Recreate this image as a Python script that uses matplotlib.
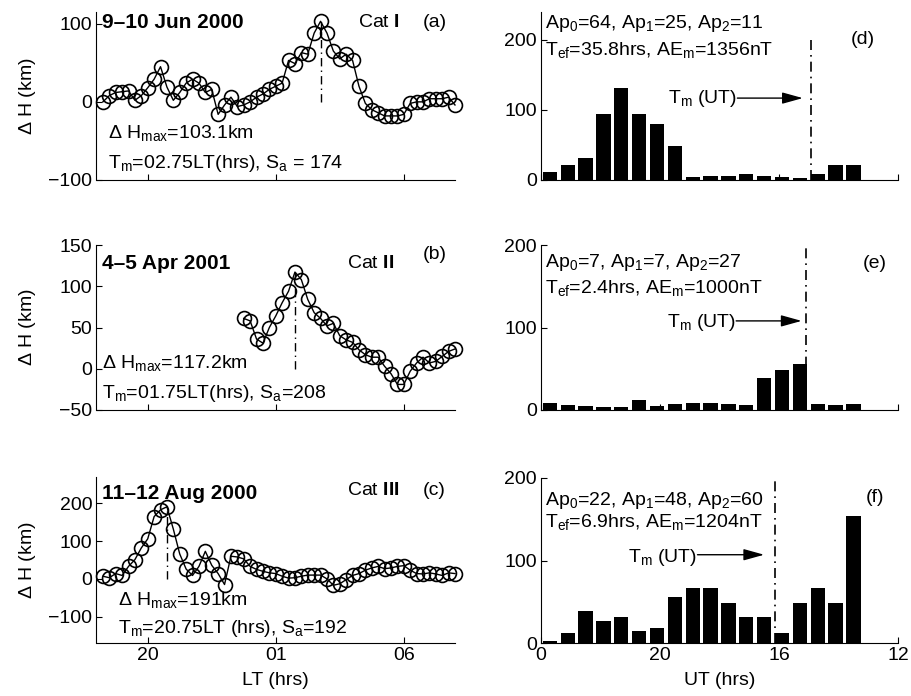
import numpy as np
import matplotlib.pyplot as plt

plt.rcParams['font.family'] = ['Liberation Sans', 'DejaVu Sans']
plt.rcParams['mathtext.fontset'] = 'custom'
plt.rcParams['mathtext.rm'] = 'Liberation Sans'
plt.rcParams['mathtext.it'] = 'Liberation Sans'
plt.rcParams['mathtext.bf'] = 'Liberation Sans:bold'
plt.rcParams['font.size'] = 14

# height rise of the F layer (km), 15 min samples, LT in hours (24 = midnight)
lt_a = np.arange(18.25, 32.01, 0.25)
dh_a = [0, 8, 12, 13, 14, 2, 8, 18, 29, 45, 19, 2, 12, 24, 29, 24, 12, 16, -16,
        -4, 6, -6, -4, 0, 6, 10, 16, 20, 24, 53, 49, 63, 61, 88, 103.1,
        88, 65, 55, 61, 53, 20, -2, -10, -14, -18, -18, -18, -16, -2, 0, 0,
        4, 4, 4, 6, -4]
lt_b = np.arange(23.75, 32.01, 0.25)
dh_b = [61, 58, 36, 31, 50, 64, 80, 94, 117.2,
        108, 84, 68, 61, 52, 55, 40, 35, 32, 23, 17, 14, 14, 3, -6, -19, -19,
        -3, 7, 14, 7, 9, 15, 21, 24]
lt_c = np.arange(18.25, 32.01, 0.25)
dh_c = [7, 3, 14, 9, 33, 51, 82, 106, 165, 183, 191,
        132, 66, 26, 9, 33, 73, 36, 14, -15, 60, 58, 53, 33, 25, 20, 16, 14,
        7, 2, 3, 7, 10, 10, 10, 0, -17, -13, -2, 9, 14, 23, 29, 33, 27, 29,
        33, 35, 23, 14, 13, 16, 13, 9, 16, 14]
tm_lt = [26.75, 25.75, 20.75]

# 3-hourly ap index
ut_bins = np.arange(1.5, 54, 3)
ap_d = [12, 22, 32, 94, 132, 94, 80, 48, 4, 6, 6, 9, 6, 5, 3, 9, 22, 22]
ap_e = [9, 6, 5, 4, 4, 12, 5, 7, 9, 9, 7, 6, 39, 48, 56, 7, 6, 7]
ap_f = [3, 12, 39, 27, 32, 15, 18, 56, 67, 67, 48, 32, 32, 12, 48, 67, 48, 154]
tm_ut = [45.3, 44.5, 39.3]

lt_ticks = [20, 25, 30]
lt_labels = ['20', '01', '06']
ut_ticks = [0, 20, 40, 60]
ut_labels = ['0', '20', '16', '12']

dates = ['9\u201310 Jun 2000', '4\u20135 Apr 2001', '11\u201312 Aug 2000']
cats = [r'Cat $\mathbf{I}$', r'Cat $\mathbf{II}$', r'Cat $\mathbf{III}$']
stats = [(r'$\Delta$ H$_{\rm max}$=103.1km', r'T$_{\rm m}$=02.75LT(hrs), S$_{\rm a}$ = 174'),
         (r'$\Delta$ H$_{\rm max}$=117.2km', r'T$_{\rm m}$=01.75LT(hrs), S$_{\rm a}$=208'),
         (r'$\Delta$ H$_{\rm max}$=191km', r'T$_{\rm m}$=20.75LT (hrs), S$_{\rm a}$=192')]
ap_text = [(r'Ap$_0$=64, Ap$_1$=25, Ap$_2$=11', r'T$_{\rm ef}$=35.8hrs, AE$_{\rm m}$=1356nT'),
           (r'Ap$_0$=7, Ap$_1$=7, Ap$_2$=27', r'T$_{\rm ef}$=2.4hrs, AE$_{\rm m}$=1000nT'),
           (r'Ap$_0$=22, Ap$_1$=48, Ap$_2$=60', r'T$_{\rm ef}$=6.9hrs, AE$_{\rm m}$=1204nT')]

W, H = 912, 696
def rect(x0, x1, top, bot):
    return [x0 / W, 1 - bot / H, (x1 - x0) / W, (bot - top) / H]

rows = [(12, 180), (245, 410), (477, 643)]
rows_r = [(12, 180), (245, 410), (478, 643)]

fig = plt.figure(figsize=(9.12, 6.96), dpi=100)

def style(ax):
    for s in ['top', 'right']:
        ax.spines[s].set_visible(False)
    for s in ['left', 'bottom']:
        ax.spines[s].set_linewidth(0.8)
    ax.tick_params(direction='in', length=4, width=0.8, labelsize=14, pad=3)

# left column: height rise
lt_data = [(lt_a, dh_a), (lt_b, dh_b), (lt_c, dh_c)]
ylims = [(-100, 115), (-50, 150), (-170, 270)]
yticks = [[-100, 0, 100], [-50, 0, 50, 100, 150], [-100, 0, 100, 200]]
# text anchors: (date y, cat y, tag y, stats x, stats line1 y, stats line2 y)
lt_txt = [(101, 101, 101, 18.45, -46, -85),
          (128, 128, 138, 18.2, 1, -35),
          (227, 233, 233, 18.85, -70, -144)]
tags = ['(a)', '(b)', '(c)']
for i in range(3):
    ax = fig.add_axes(rect(96.5, 455, *rows[i]))
    style(ax)
    x, y = lt_data[i]
    ax.plot(x, y, 'k-', lw=1, marker='o', ms=10, mfc='none', mec='k', mew=1.2,
            clip_on=False)
    pk = y[int(np.argmax(y))]
    ax.vlines(tm_lt[i], 0, pk, colors='k', lw=1, linestyles=(0, (6, 3, 1, 3)))
    ax.set_xlim(18, 32)
    ax.set_ylim(*ylims[i])
    ax.set_yticks(yticks[i])
    ax.set_xticks(lt_ticks)
    if i == 2:
        ax.set_xticklabels(lt_labels)
        ax.set_xlabel('LT (hrs)', fontsize=14)
        ax.xaxis.set_label_coords(0.5, -0.175)
    else:
        ax.set_xticklabels([])
    ax.set_ylabel(r'$\Delta$ H (km)', fontsize=14)
    ax.yaxis.set_label_coords(-0.163, 0.5)
    dy, cy, ty, sx, s1, s2 = lt_txt[i]
    ax.text(18.2, dy, dates[i], fontweight='bold', fontsize=15, va='center', ha='left')
    ax.text(27.8 if i else 28.2, cy, cats[i], va='center', ha='left')
    ax.text(30.75, ty, tags[i], va='center', ha='left')
    ax.text(sx, s1, stats[i][0], va='baseline', ha='left')
    ax.text(sx, s2, stats[i][1], va='baseline', ha='left')

# right column: ap index histograms
ap_data = [ap_d, ap_e, ap_f]
ap_ylims = [(0, 240), (0, 200), (0, 200)]
# (line1 y, line2 y, tag x, tag y, label right x, label y, arrow start, arrow end, arrow y)
ap_txt = [(217, 179, 52, 200, 33.0, 110, 33.0, 44.0, 117),
          (173, 142, 54, 178, 32.8, 101, 32.8, 43.8, 108),
          (167, 141, 54.5, 176, 26.3, 98, 26.3, 37.5, 107)]
for i in range(3):
    ax = fig.add_axes(rect(541, 898, *rows_r[i]))
    style(ax)
    ax.bar(ut_bins, ap_data[i], width=2.4, color='k', edgecolor='none')
    ax.vlines(tm_ut[i], 0, 200, colors='k', lw=1.2, linestyles=(0, (6, 3, 1, 3)))
    ax.set_xlim(0, 60)
    ax.set_ylim(*ap_ylims[i])
    ax.set_yticks([0, 100, 200])
    ax.set_xticks(ut_ticks)
    if i == 2:
        ax.set_xticklabels(ut_labels)
        ax.set_xlabel('UT (hrs)', fontsize=14)
        ax.xaxis.set_label_coords(0.5, -0.175)
    else:
        ax.set_xticklabels([])
    l1, l2, tx, tyy, lx, ly, a0, a1, ay = ap_txt[i]
    ax.text(0.7, l1, ap_text[i][0], va='baseline', ha='left')
    ax.text(0.7, l2, ap_text[i][1], va='baseline', ha='left')
    ax.text(tx, tyy, '(' + 'def'[i] + ')', va='center', ha='left')
    ax.text(lx, ly, r'T$_{\rm m}$ (UT)', va='baseline', ha='right')
    ax.annotate('', xy=(a1, ay), xytext=(a0, ay),
                arrowprops=dict(arrowstyle='-|>,head_length=0.9,head_width=0.25',
                                color='k', lw=1, shrinkA=0, shrinkB=0))

fig.savefig('out.png', dpi=100)
